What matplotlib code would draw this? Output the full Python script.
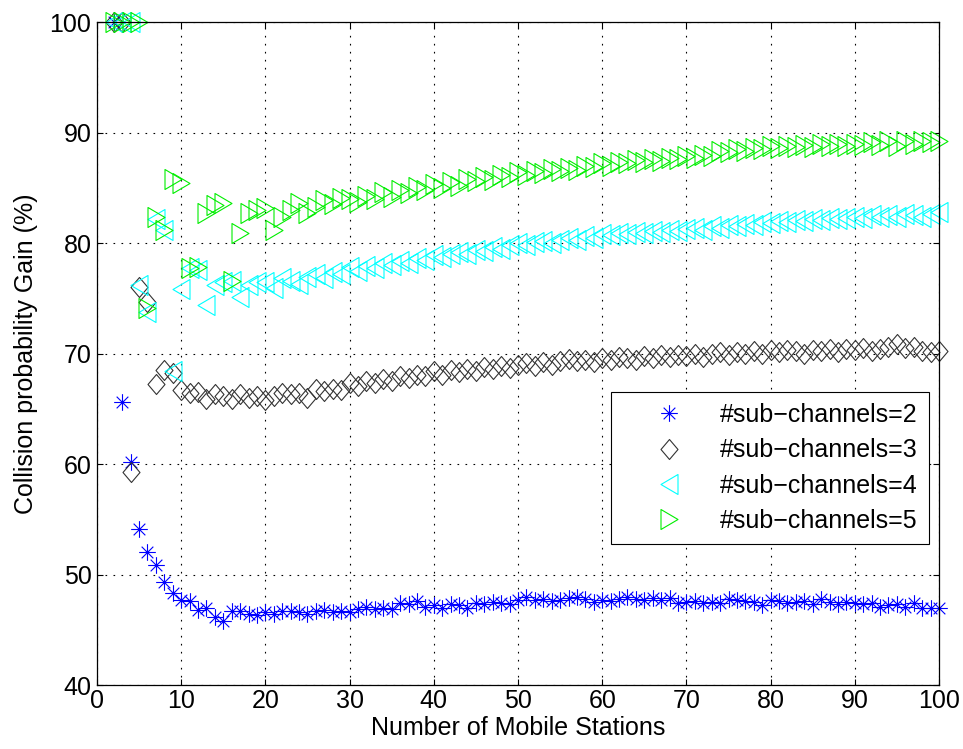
import matplotlib
matplotlib.use("Agg")
import matplotlib.pyplot as plt
from matplotlib.path import Path

plt.rcParams['font.family'] = ['Liberation Sans', 'DejaVu Sans']

# number of mobile stations (x = 2..100)
stations = list(range(2, 101))

gain_sc2 = [100, 65.6, 60.2, 54.1, 52.0, 50.9, 49.3, 48.3, 47.7, 47.6,
            46.8, 47.0, 46.2, 45.8, 46.7, 46.7, 46.4, 46.3, 46.6, 46.4,
            46.7, 46.7, 46.6, 46.4, 46.7, 46.8, 46.6, 46.7, 46.6, 46.9,
            47.1, 46.9, 47.0, 46.9, 47.4, 47.3, 47.6, 47.1, 47.2, 47.0,
            47.3, 47.2, 47.0, 47.4, 47.3, 47.5, 47.4, 47.3, 47.7, 48.0,
            47.7, 47.8, 47.6, 47.7, 47.9, 48.0, 47.8, 47.5, 47.7, 47.6,
            47.8, 48.0, 47.8, 47.7, 47.9, 47.7, 47.9, 47.4, 47.5, 47.6,
            47.4, 47.5, 47.4, 47.8, 47.7, 47.6, 47.5, 47.2, 47.7, 47.6,
            47.4, 47.5, 47.6, 47.3, 47.8, 47.5, 47.3, 47.5, 47.4, 47.3,
            47.4, 47.1, 47.2, 47.3, 47.1, 47.4, 47.0, 47.0, 47.0]

gain_sc3 = [100, 100, 59.3, 76.0, 74.7, 67.2, 68.5, 68.2, 66.7, 66.4,
            66.5, 65.9, 66.3, 66.2, 65.9, 66.3, 66.0, 66.2, 65.8, 66.2,
            66.4, 66.3, 66.4, 66.0, 66.8, 66.6, 66.8, 66.7, 67.3, 67.1,
            67.5, 67.3, 67.7, 67.5, 68.0, 67.8, 68.1, 68.0, 68.4, 68.1,
            68.5, 68.3, 68.6, 68.4, 68.8, 68.6, 68.9, 68.7, 69.0, 69.1,
            68.9, 69.2, 69.0, 69.3, 69.5, 69.3, 69.4, 69.2, 69.6, 69.4,
            69.7, 69.6, 69.4, 69.8, 69.6, 69.9, 69.7, 69.9, 69.8, 70.0,
            69.7, 70.0, 70.1, 69.9, 70.1, 70.0, 70.2, 70.0, 70.3, 70.1,
            70.3, 70.2, 70.0, 70.3, 70.2, 70.4, 70.1, 70.4, 70.3, 70.5,
            70.2, 70.4, 70.6, 70.9, 70.5, 70.6, 70.2, 70.1, 70.2]

gain_sc4 = [100, 100, 100, 76.2, 73.8, 82.2, 81.2, 68.4, 75.8, 77.7,
            77.6, 74.4, 76.2, 76.5, 76.6, 75.1, 76.2, 76.5, 76.5, 75.9,
            76.8, 76.6, 76.3, 76.9, 77.2, 76.8, 77.4, 77.2, 77.8, 77.5,
            77.9, 77.7, 78.2, 78.0, 78.4, 78.2, 78.6, 78.5, 78.9, 78.7,
            79.0, 79.2, 79.0, 79.4, 79.3, 79.6, 79.5, 79.8, 80.0, 79.8,
            80.1, 80.2, 80.0, 80.3, 80.5, 80.3, 80.6, 80.5, 80.8, 80.7,
            80.9, 80.8, 81.0, 80.9, 81.1, 81.0, 81.2, 81.1, 81.3, 81.4,
            81.2, 81.5, 81.4, 81.6, 81.5, 81.7, 81.6, 81.9, 81.8, 82.0,
            81.9, 82.1, 82.0, 82.2, 82.1, 82.3, 82.2, 82.3, 82.4, 82.3,
            82.5, 82.4, 82.5, 82.4, 82.6, 82.5, 82.4, 82.6, 82.8]

gain_sc5 = [100, 100, 100, 100, 74.1, 82.4, 81.2, 85.8, 85.4, 77.7,
            77.8, 82.7, 83.4, 83.6, 76.6, 80.9, 82.7, 83.0, 83.2, 81.2,
            82.4, 83.0, 83.6, 82.7, 83.3, 83.9, 83.5, 84.1, 84.0, 83.7,
            84.3, 84.0, 84.6, 84.2, 84.8, 84.5, 85.1, 84.8, 85.3, 85.0,
            85.5, 85.2, 85.8, 85.6, 86.0, 85.7, 86.2, 86.0, 86.4, 86.2,
            86.5, 86.3, 86.7, 86.5, 86.8, 86.6, 87.0, 86.9, 87.2, 87.0,
            87.3, 87.2, 87.5, 87.3, 87.6, 87.4, 87.7, 87.6, 87.9, 87.7,
            88.0, 87.9, 88.3, 88.2, 88.5, 88.3, 88.6, 88.5, 88.8, 88.6,
            88.8, 88.7, 88.9, 88.7, 89.0, 88.8, 89.0, 88.8, 89.0, 88.9,
            89.1, 88.9, 89.2, 88.8, 89.2, 89.0, 89.2, 89.1, 89.2]

labels = ["#sub\u2212channels=2", "#sub\u2212channels=3",
          "#sub\u2212channels=4", "#sub\u2212channels=5"]

# matlab-like markers
star = Path([(-1, 0), (1, 0), (0, -1), (0, 1),
             (-0.7, -0.7), (0.7, 0.7), (-0.7, 0.7), (0.7, -0.7)],
            [Path.MOVETO, Path.LINETO] * 4)
tri_left = Path([(-0.85, 0), (0.85, 1), (0.85, -1), (-0.85, 0)],
                [Path.MOVETO, Path.LINETO, Path.LINETO, Path.CLOSEPOLY])
tri_right = Path([(0.85, 0), (-0.85, 1), (-0.85, -1), (0.85, 0)],
                 [Path.MOVETO, Path.LINETO, Path.LINETO, Path.CLOSEPOLY])
diamond = Path([(0, 1), (0.85, 0), (0, -1), (-0.85, 0), (0, 1)],
               [Path.MOVETO, Path.LINETO, Path.LINETO, Path.LINETO, Path.CLOSEPOLY])

fig = plt.figure(figsize=(9.63, 7.49), dpi=100)
ax = fig.add_axes([0.1007, 0.0854, 0.8744, 0.8852])

ax.plot(stations, gain_sc2, linestyle='none', marker=star, ms=12, mew=0.8,
        color='#0000ff', mfc='none', label=labels[0], clip_on=False)
ax.plot(stations, gain_sc3, linestyle='none', marker=diamond, ms=14.4, mew=0.8,
        color='#333333', mfc='none', label=labels[1], clip_on=False)
ax.plot(stations, gain_sc4, linestyle='none', marker=tri_left, ms=14.4, mew=0.8,
        color='#00ffff', mfc='none', label=labels[2], clip_on=False)
ax.plot(stations, gain_sc5, linestyle='none', marker=tri_right, ms=14.4, mew=0.8,
        color='#00ee00', mfc='none', label=labels[3], clip_on=False)

ax.set_xlim(0, 100)
ax.set_ylim(40, 100)
ax.set_xticks(range(0, 101, 10))
ax.set_yticks(range(40, 101, 10))
ax.grid(True, color='black', linestyle=(0, (1.5, 5.7)), linewidth=0.8)
ax.tick_params(direction='in', length=4.5, width=0.8, top=True, right=True,
               labelsize=18)
ax.tick_params(axis='x', pad=3)
ax.tick_params(axis='y', pad=4)
for s in ax.spines.values():
    s.set_linewidth(0.9)

ax.set_xlabel("Number of Mobile Stations", fontsize=18, labelpad=2)
ax.set_ylabel("Collision probability Gain (%)", fontsize=18, labelpad=8)

leg = ax.legend(loc='upper left', bbox_to_anchor=(0.611, 0.442), borderaxespad=0,
                fontsize=18, numpoints=1, fancybox=False, framealpha=1,
                edgecolor='black', borderpad=0.45, handlelength=3.7,
                handletextpad=0.2, labelspacing=0.45)
leg.get_frame().set_linewidth(0.8)

fig.savefig("out.png", dpi=100)
